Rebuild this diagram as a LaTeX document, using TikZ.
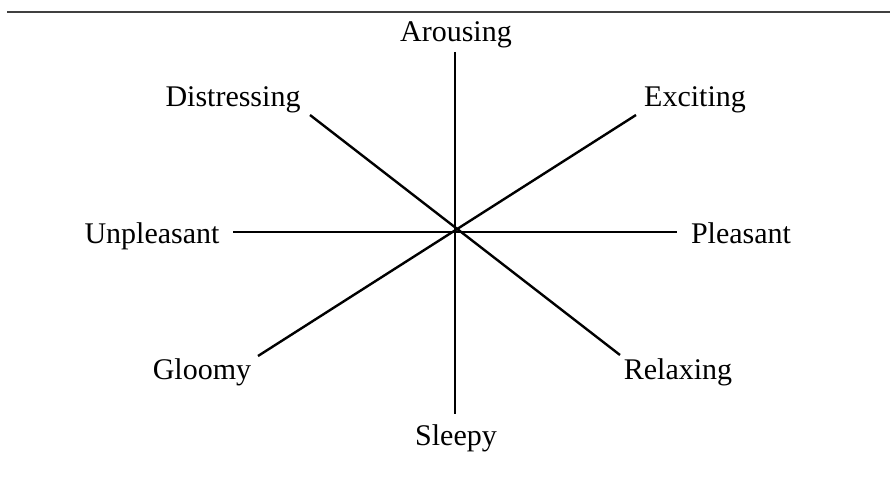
\documentclass[tikz,border=0pt]{standalone}
\usepackage{fontspec}
\setmainfont{Liberation Serif}
\usetikzlibrary{positioning}

\begin{document}
\begin{tikzpicture}[
  x=1pt, y=-1pt,
  axis/.style={line width=2.4pt, black},
  rule/.style={line width=1.6pt, black!75},
  mood/.style={font=\fontsize{30}{33}\selectfont, inner sep=0pt, anchor=base}
]
\useasboundingbox (0,0) rectangle (890,486);
\coordinate (rl) at (7,12);
\coordinate (rr) at (890,12);
\draw[rule] (rl) -- (rr);

\coordinate (c) at (455,232);
\coordinate (top) at (455,52);
\coordinate (bot) at (455,414);
\coordinate (lft) at (233,232);
\coordinate (rgt) at (677,232);
\coordinate (ul) at (310,115);
\coordinate (ur) at (636,115);
\coordinate (ll) at (258,356);
\coordinate (lr) at (620,355);

\node[mood] (arousing) at (456,42) {Arousing};
\node[mood] (distressing) at (233,107) {Distressing};
\node[mood] (exciting) at (695,107) {Exciting};
\node[mood] (unpleasant) at (152,243) {Unpleasant};
\node[mood] (pleasant) at (741,243) {Pleasant};
\node[mood] (gloomy) at (202,379) {Gloomy};
\node[mood] (relaxing) at (678,379) {Relaxing};
\node[mood] (sleepy) at (456,445) {Sleepy};

\draw[axis] (top) -- (bot);
\draw[axis] (lft) -- (rgt);
\draw[axis] (ul) -- (lr);
\draw[axis] (ll) -- (ur);
\end{tikzpicture}
\end{document}
